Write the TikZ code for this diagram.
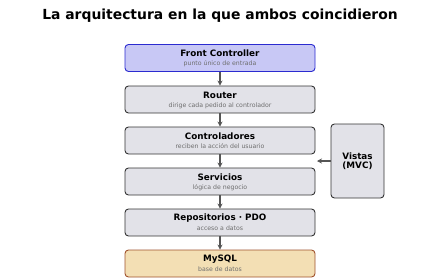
\documentclass[tikz,border=0pt]{standalone}
\usepackage{fontspec}
\setmainfont{DejaVu Sans}
\usetikzlibrary{arrows.meta}

\definecolor{layerfill}{HTML}{E2E2E8}
\definecolor{layerline}{HTML}{333333}
\definecolor{entryfill}{HTML}{C8C8F5}
\definecolor{entryline}{HTML}{2B2BD0}
\definecolor{dbfill}{HTML}{F3DFB4}
\definecolor{dbline}{HTML}{A0522D}
\definecolor{subtext}{HTML}{6E6E6E}
\definecolor{flowline}{HTML}{555555}

\begin{document}
\begin{tikzpicture}[
  x=1pt, y=-1pt,
  layer/.style={rectangle, rounded corners=3.5pt, draw=layerline, fill=layerfill, line width=0.9pt,
    minimum width=190pt, minimum height=27pt, inner sep=0pt, align=center},
  entry/.style={layer, draw=entryline, fill=entryfill},
  db/.style={layer, draw=dbline, fill=dbfill},
  side/.style={layer, minimum width=53pt, minimum height=74pt},
  flow/.style={draw=flowline, line width=1.1pt, -{Stealth[length=5pt,width=5pt]}},
  heading/.style={font=\bfseries\fontsize{8.8}{10}\selectfont},
  sub/.style={font=\fontsize{6.2}{7}\selectfont, text=subtext}
]
  \useasboundingbox (0,0) rectangle (440,279);

  % Title
  \node[font=\bfseries\fontsize{13.9}{16}\selectfont] (title) at (220,16) {La arquitectura en la que ambos coincidieron};

  % Layers, top to bottom
  \node[entry] (front) at (220,58) {};
  \node[heading] at (220,53.5) {Front Controller};
  \node[sub] at (220,64) {punto único de entrada};

  \node[layer] (router) at (220,99.5) {};
  \node[heading] at (220,95) {Router};
  \node[sub] at (220,105.5) {dirige cada pedido al controlador};

  \node[layer] (ctrl) at (220,140.5) {};
  \node[heading] at (220,136) {Controladores};
  \node[sub] at (220,146.5) {reciben la acción del usuario};

  \node[layer] (serv) at (220,181.5) {};
  \node[heading] at (220,177) {Servicios};
  \node[sub] at (220,187.5) {lógica de negocio};

  \node[layer] (repo) at (220,222.5) {};
  \node[heading] at (220,218) {Repositorios · PDO};
  \node[sub] at (220,228.5) {acceso a datos};

  \node[db] (mysql) at (220,263.5) {};
  \node[heading] at (220,259) {MySQL};
  \node[sub] at (220,269.5) {base de datos};

  % Views on the side
  \node[side, heading] (views) at (357.5,161) {Vistas\\[-1.5pt](MVC)};
  \coordinate (viewsin) at (317,161);

  % Connections
  \draw[flow] (front) -- (router);
  \draw[flow] (router) -- (ctrl);
  \draw[flow] (ctrl) -- (serv);
  \draw[flow] (serv) -- (repo);
  \draw[flow] (repo) -- (mysql);
  \draw[flow] (views) -- (viewsin);
\end{tikzpicture}
\end{document}
